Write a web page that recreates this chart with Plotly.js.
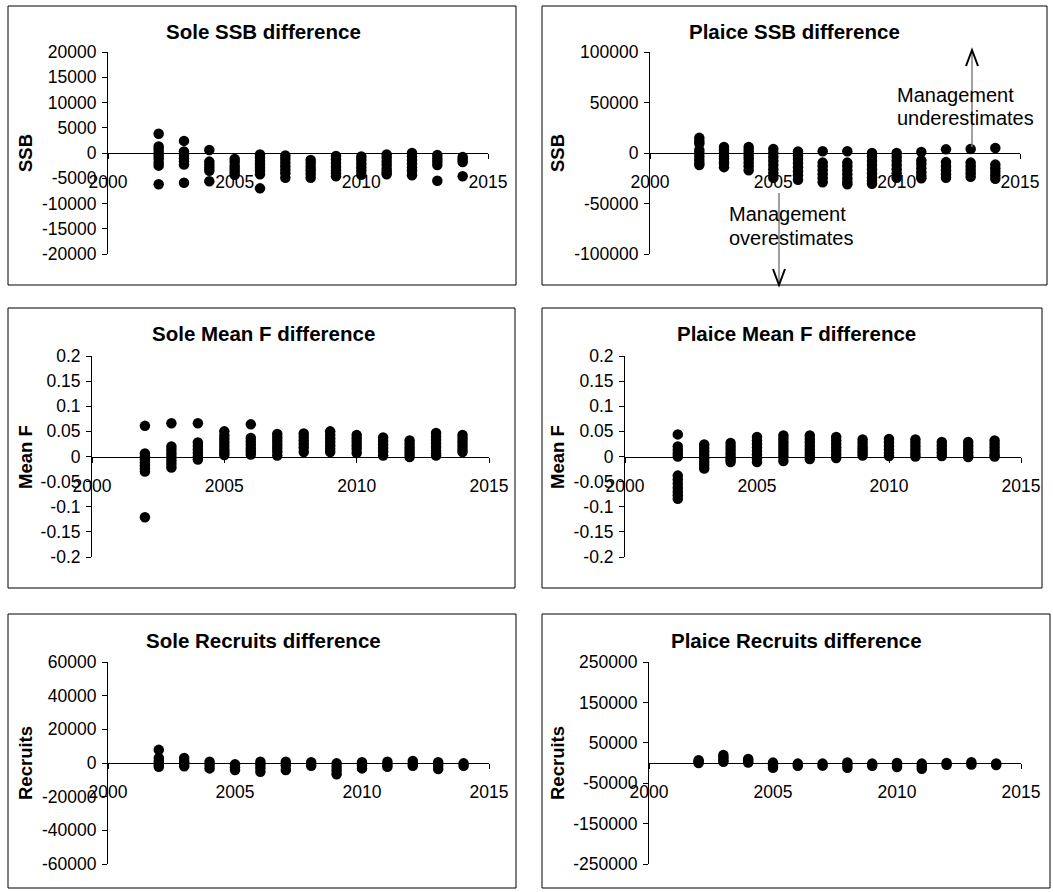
<!DOCTYPE html>
<html>
<head>
<meta charset="utf-8">
<script src="https://cdn.plot.ly/plotly-3.0.1.min.js"></script>
<style>html,body{margin:0;padding:0;background:#fff;}#chart{width:1053px;height:892px;}</style>
</head>
<body>
<div id="chart"></div>
<script>
// ---------------- data ----------------
const years = [2002, 2003, 2004, 2005, 2006, 2007, 2008, 2009, 2010, 2011, 2012, 2013, 2014];

const soleSSB = [
  [3800, 1300, 700, 0, -600, -1200, -1900, -2500, -6200],
  [2400, 300, -400, -1100, -1700, -2300, -5900],
  [600, -1700, -2300, -2900, -3500, -5600],
  [-1200, -1800, -2500, -3100, -3700, -4300],
  [-300, -900, -1600, -2200, -2900, -3500, -4200, -7000],
  [-500, -1200, -1900, -2600, -3300, -4000, -4900],
  [-1400, -2000, -2700, -3400, -4100, -4900],
  [-600, -1300, -2000, -2700, -3400, -4000, -4600],
  [-700, -1400, -2100, -2800, -3500, -4300],
  [-300, -1000, -1700, -2400, -3100, -3700, -4200],
  [0, -700, -1400, -2100, -2800, -3500, -4400],
  [-400, -1100, -1700, -2400, -5500],
  [-800, -1300, -1800, -4600]
];

const plaiceSSB = [
  [15000, 12000, 9500, 3000, 0, -3500, -7000, -10000, -12000],
  [6000, 3000, 0, -3000, -6000, -9000, -11000, -14000],
  [6000, 3000, 0, -3000, -6000, -9500, -13000, -17000],
  [4000, 0, -4000, -8000, -12000, -16000, -20000, -24500],
  [1500, -2500, -6000, -10000, -14000, -18000, -22000, -26500],
  [1800, -9500, -13000, -17000, -21000, -25000, -29000],
  [1800, -9500, -13000, -17000, -21000, -25000, -28500, -31000],
  [0, -3500, -8000, -12000, -16000, -20000, -24000, -27500, -30500],
  [0, -4000, -8000, -12000, -16000, -20000, -24500],
  [1000, -7500, -11000, -15000, -19000, -22500, -25000],
  [3600, -9000, -13000, -17000, -21000, -24500],
  [4000, -9500, -13000, -16500, -20000, -23500],
  [5000, -11500, -15000, -18500, -22000, -25500]
];

const soleF = [
  [0.061, 0.006, 0.0, -0.006, -0.012, -0.018, -0.024, -0.030, -0.121],
  [0.066, 0.020, 0.013, 0.006, -0.001, -0.008, -0.015, -0.022],
  [0.066, 0.028, 0.021, 0.014, 0.007, 0.0, -0.006],
  [0.050, 0.042, 0.035, 0.028, 0.021, 0.014, 0.008, 0.003],
  [0.064, 0.037, 0.030, 0.023, 0.016, 0.010, 0.004],
  [0.045, 0.038, 0.031, 0.024, 0.017, 0.010, 0.002],
  [0.046, 0.039, 0.032, 0.025, 0.018, 0.009],
  [0.050, 0.043, 0.036, 0.029, 0.022, 0.015, 0.009],
  [0.043, 0.036, 0.029, 0.022, 0.015, 0.007],
  [0.038, 0.031, 0.024, 0.017, 0.010, 0.002],
  [0.032, 0.025, 0.018, 0.011, 0.005, -0.001],
  [0.047, 0.040, 0.033, 0.026, 0.019, 0.012, 0.006, 0.002],
  [0.043, 0.036, 0.029, 0.022, 0.015, 0.009]
];

const plaiceF = [
  [0.044, 0.020, 0.013, 0.006, 0.0, -0.038, -0.046, -0.054, -0.062, -0.070, -0.077, -0.084],
  [0.024, 0.017, 0.010, 0.003, -0.004, -0.011, -0.017, -0.024],
  [0.027, 0.020, 0.013, 0.006, -0.001, -0.006, -0.011],
  [0.039, 0.032, 0.025, 0.018, 0.011, 0.004, -0.004, -0.011],
  [0.042, 0.035, 0.028, 0.021, 0.014, 0.007, 0.0, -0.009],
  [0.042, 0.035, 0.028, 0.021, 0.014, 0.007, 0.001, -0.005],
  [0.039, 0.032, 0.025, 0.018, 0.011, 0.004, -0.003],
  [0.034, 0.027, 0.020, 0.014, 0.008, 0.002],
  [0.035, 0.028, 0.021, 0.014, 0.007, 0.001],
  [0.034, 0.027, 0.020, 0.013, 0.006, 0.0],
  [0.029, 0.022, 0.015, 0.008, 0.001],
  [0.029, 0.022, 0.015, 0.008, 0.001, -0.001],
  [0.032, 0.025, 0.018, 0.011, 0.004, 0.0]
];

const soleRec = [
  [7800, 3000, 1000, -1000, -2200],
  [3000, 1000, -600, -2000],
  [800, -1200, -3200],
  [-800, -2500, -4200],
  [800, -1000, -3000, -5200],
  [800, -1500, -4200],
  [400, -1600],
  [-200, -2300, -4500, -6700],
  [400, -1500, -3200],
  [800, -1200, -2200],
  [1200, -600, -1600],
  [400, -1600, -3600],
  [-200, -1600]
];

const plaiceRec = [
  [7000, 3000, 0],
  [20000, 14000, 8000, 3000],
  [10000, 5000, 1000],
  [1000, -5000, -12000],
  [-1500, -7000],
  [-1500, -6500],
  [1500, -5000, -12000],
  [-1500, -7000],
  [0, -5000, -10000],
  [-1500, -8000, -14500],
  [0, -4500],
  [2000, -4000],
  [-1000, -5000]
];

// tick labels
const xTickVals = [2000, 2005, 2010, 2015];
const xTickText = ["2000", "2005", "2010", "2015"];
const soleSSBTicks = [20000, 15000, 10000, 5000, 0, -5000, -10000, -15000, -20000];
const soleSSBTickText = ["20000", "15000", "10000", "5000", "0", "-5000", "-10000", "-15000", "-20000"];
const plaiceSSBTicks = [100000, 50000, 0, -50000, -100000];
const plaiceSSBTickText = ["100000", "50000", "0", "-50000", "-100000"];
const fTicks = [0.2, 0.15, 0.1, 0.05, 0, -0.05, -0.1, -0.15, -0.2];
const fTickText = ["0.2", "0.15", "0.1", "0.05", "0", "-0.05", "-0.1", "-0.15", "-0.2"];
const soleRecTicks = [60000, 40000, 20000, 0, -20000, -40000, -60000];
const soleRecTickText = ["60000", "40000", "20000", "0", "-20000", "-40000", "-60000"];
const plaiceRecTicks = [250000, 150000, 50000, -50000, -150000, -250000];
const plaiceRecTickText = ["250000", "150000", "50000", "-50000", "-150000", "-250000"];

const titles = ["Sole SSB difference", "Plaice SSB difference", "Sole Mean F difference",
                "Plaice Mean F difference", "Sole Recruits difference", "Plaice Recruits difference"];
const yTitles = ["SSB", "SSB", "Mean F", "Mean F", "Recruits", "Recruits"];

// ---------------- layout helpers ----------------
const W = 1053, H = 892;
const px = x => x / W;
const py = y => 1 - y / H;
const FONT = "Liberation Sans, Arial, Helvetica, sans-serif";

const panels = [
  {vals: soleSSB,  yr: [-20000, 20000],   tv: soleSSBTicks,  tt: soleSSBTickText,  ax: [108, 488],  ay: [52, 254],  box: [8, 6, 516, 285],    tx: 263, ty: 32,  yx: 25,  yy: 153},
  {vals: plaiceSSB,yr: [-100000, 100000], tv: plaiceSSBTicks,tt: plaiceSSBTickText,ax: [650, 1020], ay: [52, 254],  box: [542, 6, 1047, 285], tx: 795, ty: 32,  yx: 557, yy: 153},
  {vals: soleF,    yr: [-0.2, 0.2],       tv: fTicks,        tt: fTickText,        ax: [92, 489],   ay: [356, 557], box: [8, 308, 515, 588],  tx: 263, ty: 333, yx: 25,  yy: 457},
  {vals: plaiceF,  yr: [-0.2, 0.2],       tv: fTicks,        tt: fTickText,        ax: [625, 1021], ay: [356, 557], box: [542, 308, 1042, 588], tx: 796, ty: 333, yx: 557, yy: 457},
  {vals: soleRec,  yr: [-60000, 60000],   tv: soleRecTicks,  tt: soleRecTickText,  ax: [108, 489],  ay: [662, 864], box: [8, 614, 516, 888],  tx: 263, ty: 640, yx: 25,  yy: 763},
  {vals: plaiceRec,yr: [-250000, 250000], tv: plaiceRecTicks,tt: plaiceRecTickText,ax: [649, 1021], ay: [662, 864], box: [542, 614, 1050, 888], tx: 796, ty: 640, yx: 557, yy: 763}
];

const data = [];
const layout = {
  width: W, height: H,
  margin: {l: 0, r: 0, t: 0, b: 0, pad: 0},
  paper_bgcolor: "#ffffff",
  plot_bgcolor: "rgba(0,0,0,0)",
  showlegend: false,
  font: {family: FONT, color: "#000000", size: 17.5},
  shapes: [],
  annotations: []
};

panels.forEach((p, i) => {
  const n = i + 1;
  const xs = [], ys = [];
  years.forEach((yr, k) => p.vals[k].forEach(v => { xs.push(yr); ys.push(v); }));
  data.push({
    type: "scatter", mode: "markers", x: xs, y: ys,
    xaxis: "x" + n, yaxis: "y" + n,
    marker: {color: "#000000", size: 10.5, line: {width: 0}},
    cliponaxis: false, hoverinfo: "x+y"
  });
  const xname = n === 1 ? "xaxis" : "xaxis" + n;
  const yname = n === 1 ? "yaxis" : "yaxis" + n;
  layout[xname] = {
    domain: [px(p.ax[0]), px(p.ax[1])],
    range: [2000, 2015],
    anchor: "free",
    position: py((p.ay[0] + p.ay[1]) / 2),
    tickmode: "array", tickvals: xTickVals, ticktext: xTickText,
    showline: true, linecolor: "#000000", linewidth: 1,
    ticks: "outside", ticklen: 5, tickcolor: "#000000", tickwidth: 1,
    ticklabelstandoff: 8,
    showgrid: false, zeroline: false, fixedrange: true,
    tickfont: {family: FONT, size: 17.5, color: "#000000"}
  };
  layout[yname] = {
    domain: [py(p.ay[1]), py(p.ay[0])],
    range: p.yr,
    anchor: "x" + n,
    tickmode: "array", tickvals: p.tv, ticktext: p.tt,
    showline: true, linecolor: "#000000", linewidth: 1,
    ticks: "outside", ticklen: 5, tickcolor: "#000000", tickwidth: 1,
    ticklabelstandoff: 2,
    showgrid: false, zeroline: false, fixedrange: true,
    tickfont: {family: FONT, size: 17.5, color: "#000000"}
  };
  layout.shapes.push({
    type: "rect", xref: "paper", yref: "paper",
    x0: px(p.box[0]), x1: px(p.box[2]), y0: py(p.box[3]), y1: py(p.box[1]),
    line: {color: "#000000", width: 1}, fillcolor: "rgba(0,0,0,0)", layer: "below"
  });
  layout.annotations.push({
    text: "<b>" + titles[i] + "</b>", xref: "paper", yref: "paper",
    x: px(p.tx), y: py(p.ty), xanchor: "center", yanchor: "middle",
    showarrow: false, font: {family: FONT, size: 20.5, color: "#000000"}
  });
  layout.annotations.push({
    text: "<b>" + yTitles[i] + "</b>", xref: "paper", yref: "paper",
    x: px(p.yx), y: py(p.yy), xanchor: "center", yanchor: "middle", textangle: -90,
    showarrow: false, font: {family: FONT, size: 18.5, color: "#000000"}
  });
});

// Plaice SSB arrows and labels
const arrowGray = "#808080";
// upward arrow
layout.shapes.push({type: "line", xref: "paper", yref: "paper", x0: px(972), x1: px(972), y0: py(147), y1: py(52), line: {color: arrowGray, width: 1.5}});
layout.shapes.push({type: "path", xref: "paper", yref: "paper",
  path: `M ${px(966)} ${py(66)} L ${px(972)} ${py(50)} L ${px(978)} ${py(66)}`,
  line: {color: "#000000", width: 2}});
// downward arrow
layout.shapes.push({type: "line", xref: "paper", yref: "paper", x0: px(779), x1: px(779), y0: py(193), y1: py(283), line: {color: arrowGray, width: 1.5}});
layout.shapes.push({type: "path", xref: "paper", yref: "paper",
  path: `M ${px(773)} ${py(269)} L ${px(779)} ${py(285)} L ${px(785)} ${py(269)}`,
  line: {color: "#000000", width: 2}});

const noteLines = [
  ["Management", 895, 95], ["underestimates", 895, 118],
  ["Management", 727, 214], ["overestimates", 727, 238]
];
noteLines.forEach(([t, x, y]) => layout.annotations.push({
  text: t, xref: "paper", yref: "paper", x: px(x), y: py(y),
  xanchor: "left", yanchor: "middle", showarrow: false,
  font: {family: FONT, size: 20, color: "#000000"}
}));

Plotly.newPlot("chart", data, layout, {staticPlot: true, displayModeBar: false});
</script>
</body>
</html>
